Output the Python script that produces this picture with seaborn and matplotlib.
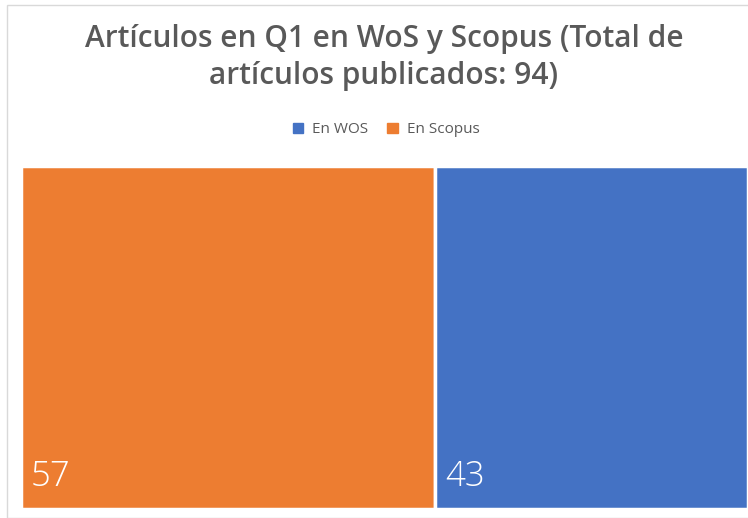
import matplotlib
matplotlib.use("Agg")
import matplotlib.pyplot as plt
import matplotlib.patches as mpatches
import seaborn as sns

categories = ["En Scopus", "En WOS"]
values = [57, 43]
colors = ["#ED7D31", "#4472C4"]
legend_order = ["En WOS", "En Scopus"]
title = "Artículos en Q1 en WoS y Scopus (Total de\nartículos publicados: 94)"

sns.set_theme(style="white")
plt.rcParams['font.family'] = ['Open Sans', 'DejaVu Sans']

W, H = 748, 518
fig = plt.figure(figsize=(W / 100, H / 100), dpi=100)
fig.patches.append(mpatches.Rectangle((7 / W, 0), 1, 1 - 5 / H, transform=fig.transFigure,
                                      facecolor="white", edgecolor="#D9D9D9", linewidth=1,
                                      zorder=-5))

ax = fig.add_axes([20.5 / W, 9.5 / H, 727 / W, (508.5 - 165.5) / H])
ax.set_zorder(2)
lefts = [sum(values[:i]) for i in range(len(values))]
ax.barh([0] * len(values), values, left=lefts, height=1, color=colors,
        edgecolor="white", linewidth=2.5, align="edge")
ax.set_xlim(0, sum(values))
ax.set_ylim(0, 1)
ax.axis("off")

for l, v in zip(lefts, values):
    ax.annotate(str(v), xy=(l, 0), xytext=(7.5, 10.5), textcoords="offset points",
                color="white", fontsize=25, ha="left", va="bottom", fontweight="light")

fig.text(384 / W, 1 - 24 / H, title, ha="center", va="top", fontsize=21.5,
         fontweight="semibold", color="#595959", linespacing=1.32)

handles = [mpatches.Patch(color=colors[categories.index(c)], label=c) for c in legend_order]
fig.legend(handles=handles, loc="center", bbox_to_anchor=(386 / W, 1 - 130 / H), ncol=2,
           frameon=False, fontsize=11, handlelength=0.7, handleheight=0.7,
           handletextpad=0.6, columnspacing=1.2, labelcolor="#595959")

fig.savefig("out.png", dpi=100)
